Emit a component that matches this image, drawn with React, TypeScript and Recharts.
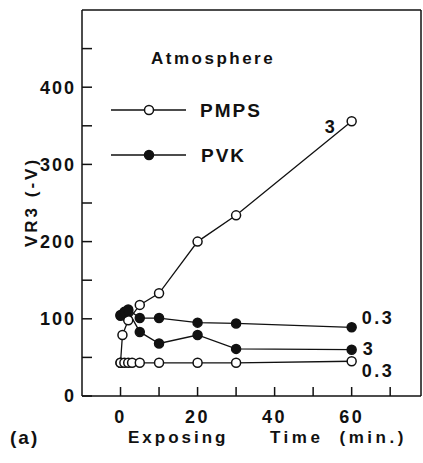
import { LineChart, Line, XAxis, YAxis, ReferenceLine, Legend } from 'recharts';

// exposing time (min.) and VR3 (-V)
const pmps3Time = [0, 0.5, 2, 5, 10, 20, 30, 60];
const pmps3Vr = [43, 79, 98, 118, 133, 200, 234, 356];
const pmps03Time = [0, 1, 2, 3, 5, 10, 20, 30, 60];
const pmps03Vr = [43, 43, 43, 43, 43, 43, 43, 43, 45];
const pvk03Time = [0, 1, 2, 5, 10, 20, 30, 60];
const pvk03Vr = [105, 109, 112, 101, 101, 95, 94, 89];
const pvk3Time = [0, 1, 2, 5, 10, 20, 30, 60];
const pvk3Vr = [104, 108, 110, 83, 68, 79, 61, 60];

const xTicks = [0, 10, 20, 30, 40, 50, 60, 70];
const yTicks = [0, 50, 100, 150, 200, 250, 300, 350, 400, 450];

const FONT = '"Liberation Sans", Arial, sans-serif';

const toRows = (t: number[], v: number[]) => t.map((time, i) => ({ time, vr: v[i] }));

const endLabel = (text: string, count: number, dx: number, dy: number) => (props: any) => {
    if (props.index !== count - 1) return <g />;
    return (
        <text x={props.x + dx} y={props.y + dy} fontFamily={FONT} fontWeight="bold" fontSize={18} letterSpacing={2.5} fill="#111">
            {text}
        </text>
    );
};

const openDot = { r: 4.5, fill: '#fff', stroke: '#111', strokeWidth: 1.5 };
const fullDot = { r: 4.5, fill: '#111', stroke: '#111', strokeWidth: 1.5 };

const LegendBox = () => (
    <svg width={200} height={140} style={{ display: 'block', overflow: 'visible' }}>
        <text x={51} y={34} fontFamily={FONT} fontWeight="bold" fontSize={17} letterSpacing={2.5} fill="#111">Atmosphere</text>
        <line x1={11} x2={86} y1={80} y2={80} stroke="#111" strokeWidth={1.3} />
        <circle cx={49} cy={80} r={4.5} fill="#fff" stroke="#111" strokeWidth={1.5} />
        <text x={100} y={87} fontFamily={FONT} fontWeight="bold" fontSize={19} letterSpacing={2} fill="#111">PMPS</text>
        <line x1={11} x2={86} y1={125} y2={125} stroke="#111" strokeWidth={1.3} />
        <circle cx={49} cy={125} r={4.5} fill="#111" stroke="#111" strokeWidth={1.5} />
        <text x={101} y={132} fontFamily={FONT} fontWeight="bold" fontSize={19} letterSpacing={2} fill="#111">PVK</text>
    </svg>
);

export default function App() {
    const xTickStyle = { fill: '#111', fontFamily: FONT, fontWeight: 'bold', fontSize: 18, letterSpacing: 2.5 };
    const yTickStyle = { fill: '#111', fontFamily: FONT, fontWeight: 'bold', fontSize: 18, letterSpacing: 2 };
    return (
        <div style={{ position: 'absolute', left: 0, top: 0, background: '#fff' }}>
            <LineChart width={423} height={463} margin={{ top: 10, right: 2, bottom: 27, left: 22 }}>
                <XAxis
                    type="number"
                    dataKey="time"
                    domain={[-10, 78]}
                    ticks={xTicks}
                    allowDataOverflow
                    height={40}
                    stroke="#111"
                    strokeWidth={1.5}
                    tickSize={-9}
                    tickMargin={23}
                    tick={xTickStyle}
                    tickFormatter={(v) => (v % 20 === 0 ? String(v) : '')}
                    label={(p: any) => {
                        const vb = p.viewBox;
                        return (
                            <g fontFamily={FONT} fontWeight="bold" fill="#111">
                                <text x={vb.x + 46} y={vb.y + 47} fontSize={17} letterSpacing={3}>Exposing</text>
                                <text x={vb.x + 188} y={vb.y + 47} fontSize={17} letterSpacing={3.5} wordSpacing={8}>Time (min.)</text>
                                <text x={vb.x - 72} y={vb.y + 48} fontSize={19} letterSpacing={2}>(a)</text>
                            </g>
                        );
                    }}
                />
                <YAxis
                    type="number"
                    domain={[0, 500]}
                    ticks={yTicks}
                    width={60}
                    stroke="#111"
                    strokeWidth={1.5}
                    tickSize={-10}
                    tickMargin={16}
                    tick={yTickStyle}
                    tickFormatter={(v) => (v % 100 === 0 ? String(v) : '')}
                    label={() => {
                        const cx = 37;
                        const cy = 202;
                        return (
                            <text x={cx} y={cy} transform={`rotate(-90 ${cx} ${cy})`} textAnchor="middle" fontFamily={FONT} fontWeight="bold" fontSize={17} letterSpacing={3} fill="#111">
                                VR3 (-V)
                            </text>
                        );
                    }}
                />
                <ReferenceLine y={500} stroke="#111" strokeWidth={1.5} />
                <ReferenceLine x={78} stroke="#111" strokeWidth={1.5} />
                <Legend
                    content={() => <LegendBox />}
                    wrapperStyle={{ position: 'absolute', left: 100, top: 30, width: 0, height: 0, overflow: 'visible' }}
                />
                <Line
                    data={toRows(pmps3Time, pmps3Vr)}
                    dataKey="vr"
                    name="PMPS 3"
                    type="linear"
                    stroke="#111"
                    strokeWidth={1.3}
                    dot={openDot}
                    isAnimationActive={false}
                    label={endLabel('3', pmps3Time.length, -27, 12)}
                />
                <Line
                    data={toRows(pmps03Time, pmps03Vr)}
                    dataKey="vr"
                    name="PMPS 0.3"
                    type="linear"
                    stroke="#111"
                    strokeWidth={1.3}
                    dot={openDot}
                    isAnimationActive={false}
                    label={endLabel('0.3', pmps03Time.length, 10, 16)}
                />
                <Line
                    data={toRows(pvk03Time, pvk03Vr)}
                    dataKey="vr"
                    name="PVK 0.3"
                    type="linear"
                    stroke="#111"
                    strokeWidth={1.3}
                    dot={fullDot}
                    isAnimationActive={false}
                    label={endLabel('0.3', pvk03Time.length, 10, -3)}
                />
                <Line
                    data={toRows(pvk3Time, pvk3Vr)}
                    dataKey="vr"
                    name="PVK 3"
                    type="linear"
                    stroke="#111"
                    strokeWidth={1.3}
                    dot={fullDot}
                    isAnimationActive={false}
                    label={endLabel('3', pvk3Time.length, 11, 5)}
                />
            </LineChart>
        </div>
    );
}
